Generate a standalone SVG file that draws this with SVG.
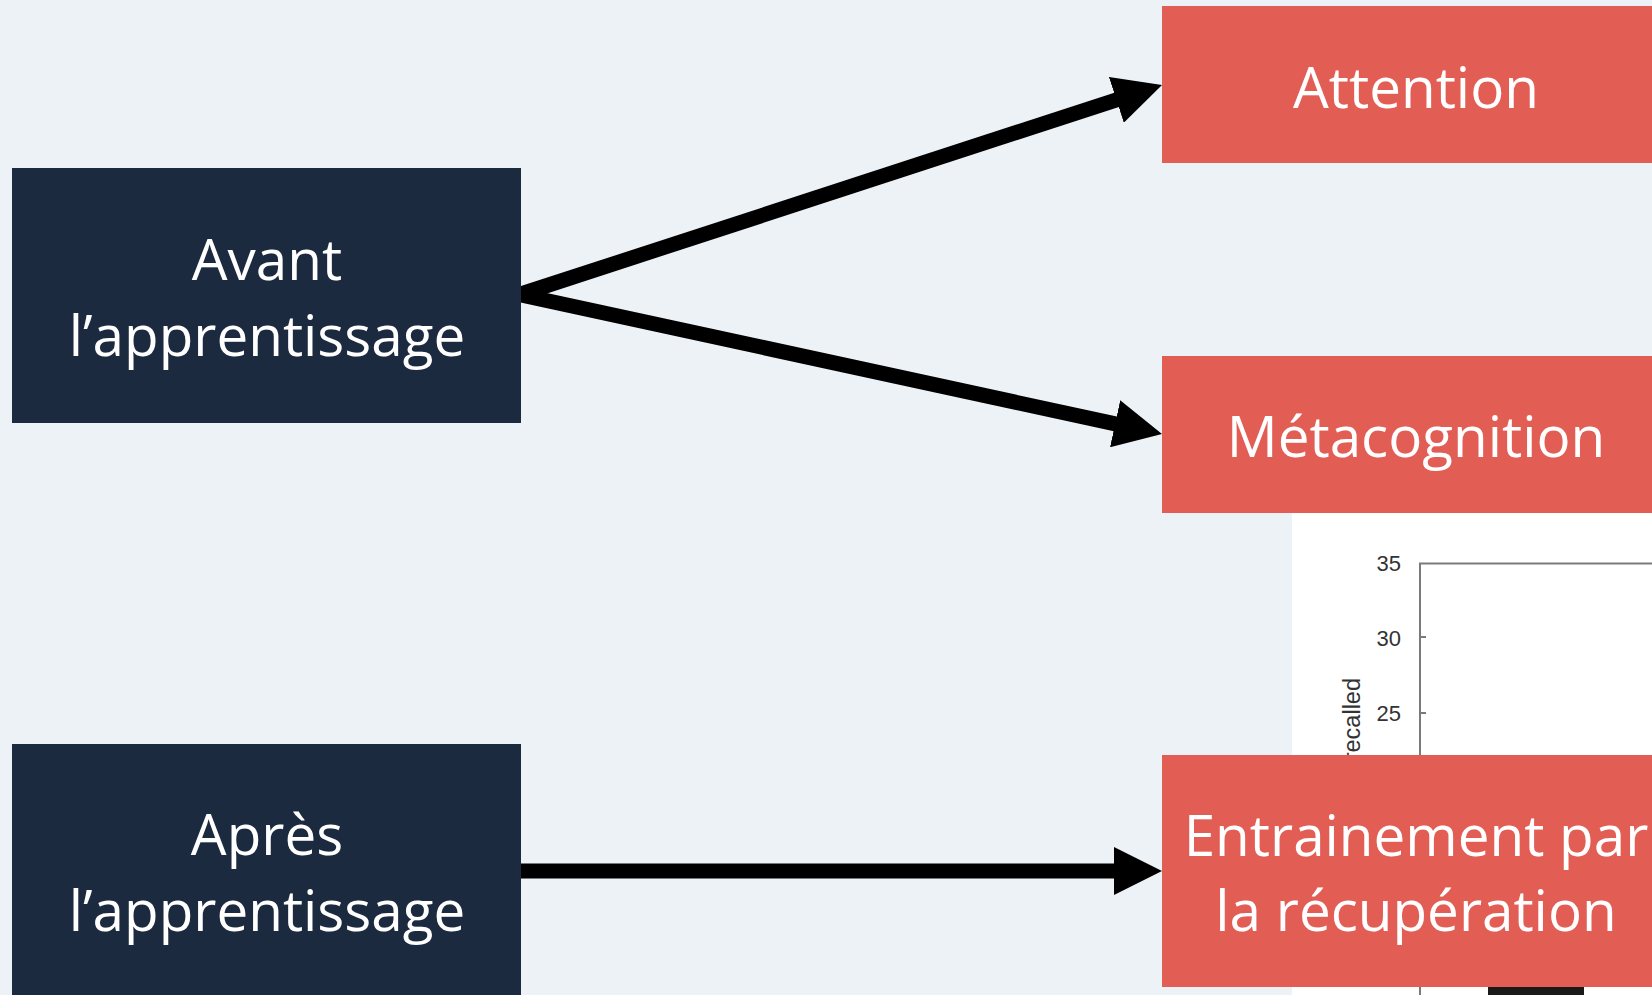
<svg xmlns="http://www.w3.org/2000/svg" width="1652" height="995" viewBox="0 0 1652 995">
  <style>
    .bg { fill: #EDF2F7; }
    .phase rect { fill: #1C2A40; }
    .strategy rect { fill: #E25E55; }
    .label { font-family: "Open Sans", "Noto Sans", sans-serif; font-size: 56.6px; fill: #FFFFFF; text-anchor: middle; }
    .edge { stroke: #000000; stroke-width: 15; fill: none; marker-end: url(#head); }
    .axis { stroke: #7A7A7A; stroke-width: 2; fill: none; }
    .tick { font-family: "Liberation Sans", Arial, sans-serif; font-size: 22px; fill: #333333; text-anchor: end; }
    .ylab { font-family: "Liberation Sans", Arial, sans-serif; font-size: 23.5px; fill: #333333; text-anchor: end; }
  </style>
  <defs>
    <!-- arrowhead: tip sits 30px beyond the end of the shaft -->
    <marker id="head" viewBox="0 0 48 48" refX="18" refY="24" markerWidth="48" markerHeight="48" markerUnits="userSpaceOnUse" orient="auto">
      <path d="M0,0 L48,24 L0,48 Z" fill="#000000"/>
    </marker>
  </defs>

  <rect class="bg" x="0" y="0" width="1652" height="995"/>

  <!-- bar chart fragment behind the strategy boxes -->
  <g id="chart">
    <rect x="1292" y="513" width="360" height="482" fill="#FFFFFF"/>
    <path class="axis" d="M1652,563.5 H1420 V995"/>
    <path class="axis" d="M1420,637 H1426 M1420,713 H1426"/>
    <text class="tick" x="1401" y="570.5">35</text>
    <text class="tick" x="1401" y="645.5">30</text>
    <text class="tick" x="1401" y="720.5">25</text>
    <text class="ylab" transform="translate(1360,678) rotate(-90)">recalled</text>
    <rect x="1488" y="950" width="96" height="45" fill="#1A1A1A"/>
  </g>

  <g id="connectors">
    <line class="edge" x1="521" y1="294" x2="1133.5" y2="94.3"/>
    <line class="edge" x1="521" y1="295" x2="1132.7" y2="427.6"/>
    <line class="edge" x1="521" y1="871" x2="1132" y2="871"/>
  </g>

  <g id="avant" class="phase">
    <rect x="12" y="168" width="509" height="255"/>
    <text class="label" x="267" y="280">Avant</text>
    <text class="label" x="267" y="356">l’apprentissage</text>
  </g>

  <g id="apres" class="phase">
    <rect x="12" y="744" width="509" height="260"/>
    <text class="label" x="267" y="855">Après</text>
    <text class="label" x="267" y="931">l’apprentissage</text>
  </g>

  <g id="attention" class="strategy">
    <rect x="1162" y="6" width="520" height="157"/>
    <text class="label" x="1416" y="108">Attention</text>
  </g>

  <g id="metacognition" class="strategy">
    <rect x="1162" y="356" width="520" height="157"/>
    <text class="label" x="1416" y="457">Métacognition</text>
  </g>

  <g id="entrainement" class="strategy">
    <rect x="1162" y="755" width="520" height="232"/>
    <text class="label" x="1416" y="856">Entrainement par</text>
    <text class="label" x="1416" y="931">la récupération</text>
  </g>
</svg>
